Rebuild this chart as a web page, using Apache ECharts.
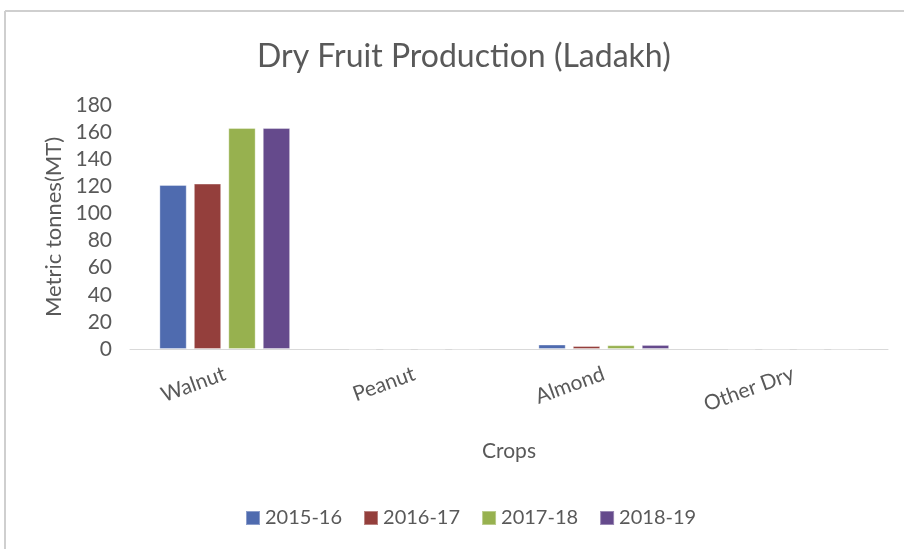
<!DOCTYPE html>
<html>
<head>
<meta charset="utf-8">
<script src="https://cdn.jsdelivr.net/npm/echarts@6/dist/echarts.min.js"></script>
<style>
  html, body { margin: 0; padding: 0; background: #fff; }
  #chart { width: 904px; height: 549px; }
</style>
</head>
<body>
<div id="chart"></div>
<script>
// Chart data
const crops = ['Walnut', 'Peanut', 'Almond', 'Other Dry'];
const years = ['2015-16', '2016-17', '2017-18', '2018-19'];
const prod2015 = [121, 0, 3.3, 0];
const prod2016 = [122, 0, 2.2, 0];
const prod2017 = [163, 0, 2.8, 0];
const prod2018 = [163, 0, 3.0, 0];
const yTicks = [0, 20, 40, 60, 80, 100, 120, 140, 160, 180];

const colors = ['#4F6BAF', '#943F3C', '#97B14F', '#654A8C'];
const seriesValues = [prod2015, prod2016, prod2017, prod2018];
const font = 'Lato, "Open Sans", sans-serif';

const chart = echarts.init(document.getElementById('chart'));

const option = {
    animation: false,
    textStyle: { fontFamily: font },
    title: {
        text: 'Dry Fruit Production (Ladakh)',
        left: 252,
        top: 36,
        textStyle: { fontSize: 32, fontWeight: 'normal', color: '#595959', fontFamily: font },
    },
    legend: {
        data: years,
        bottom: 16,
        left: 240,
        itemWidth: 14,
        itemHeight: 14,
        itemGap: 21,
        icon: 'rect',
        textStyle: { fontSize: 20, color: '#595959', fontFamily: font },
    },
    grid: { left: 130, right: 16, top: 105, bottom: 200 },
    xAxis: {
        type: 'category',
        data: crops,
        name: 'Crops',
        nameLocation: 'middle',
        nameGap: 92,
        nameTextStyle: { fontSize: 21, color: '#595959', fontFamily: font },
        axisLine: { lineStyle: { color: '#D9D9D9', width: 1 } },
        axisTick: { show: false },
        axisLabel: { rotate: 20, margin: 24, fontSize: 21, color: '#595959', fontFamily: font },
    },
    yAxis: {
        type: 'value',
        min: yTicks[0],
        max: yTicks[yTicks.length - 1],
        interval: 20,
        name: 'Metric tonnes(MT)',
        nameLocation: 'middle',
        nameGap: 58,
        nameTextStyle: { fontSize: 22, color: '#595959', fontFamily: font },
        axisLine: { show: false },
        axisTick: { show: false },
        splitLine: { show: false },
        axisLabel: { fontSize: 21, color: '#595959', margin: 18, fontFamily: font },
    },
    graphic: [
        { type: 'line', shape: { x1: 5, y1: 11, x2: 904, y2: 11 }, style: { stroke: '#CFCFCF', lineWidth: 2 } },
        { type: 'line', shape: { x1: 5, y1: 11, x2: 5, y2: 549 }, style: { stroke: '#CFCFCF', lineWidth: 2 } },
    ],
    series: years.map((y, i) => ({
        name: y,
        type: 'bar',
        data: seriesValues[i],
        barGap: '26%',
        barCategoryGap: '31%',
        itemStyle: { color: colors[i], borderColor: 'rgba(255,255,255,0.35)', borderWidth: 1 },
    })),
};

chart.setOption(option);
</script>
</body>
</html>
